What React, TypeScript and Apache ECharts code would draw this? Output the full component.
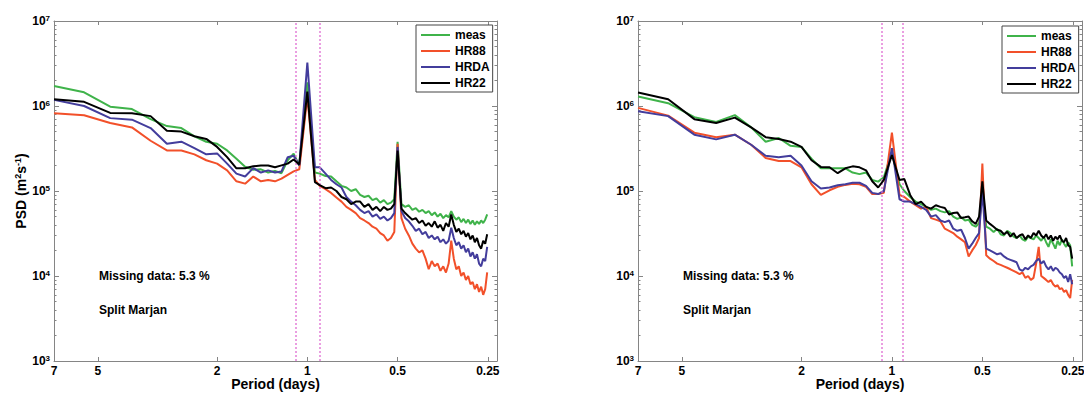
import React, { useEffect, useRef } from "react";
import * as echarts from "echarts";

// Frequency grid of the spectra (cycles per day); plotted as period = 1 / f
const FREQ_CPD = [
  0.1429, 0.18, 0.22, 0.26, 0.30, 0.34, 0.38, 0.42, 0.46, 0.50,
  0.54, 0.58, 0.62, 0.66, 0.70, 0.74, 0.78, 0.82, 0.86, 0.90,
  0.94, 1.00, 1.06, 1.10, 1.15, 1.20, 1.25, 1.30, 1.35, 1.40,
  1.45, 1.50, 1.55, 1.60, 1.65, 1.70, 1.75, 1.80, 1.85, 1.90,
  1.95, 2.00, 2.06, 2.12, 2.18, 2.24, 2.30, 2.36, 2.42, 2.48,
  2.54, 2.60, 2.66, 2.72, 2.78, 2.84, 2.90, 2.96, 3.02, 3.08,
  3.14, 3.20, 3.26, 3.32, 3.38, 3.44, 3.50, 3.56, 3.62, 3.68,
  3.74, 3.80, 3.86, 3.92, 3.98,
];

// Left panel PSD (m^2 s^-1)
const LEFT_MEAS = [
  1.72e6, 1.45e6, 9.8e5, 9.2e5, 7.0e5, 5.8e5, 5.5e5, 4.4e5, 3.8e5, 3.6e5,
  3.0e5, 2.4e5, 1.93e5, 1.78e5, 1.8e5, 1.65e5, 1.72e5, 1.62e5, 2.3e5, 2.75e5,
  2.0e5, 1.9e6, 1.65e5, 1.6e5, 1.5e5, 1.48e5, 1.3e5, 1.15e5, 1.1e5, 1.0e5,
  1.05e5, 9e4, 8.5e4, 8.8e4, 7.8e4, 8.2e4, 7.3e4, 7.8e4, 7e4, 7.3e4,
  8e4, 3.8e5, 7e4, 6.5e4, 6.8e4, 6e4, 6.3e4, 5.7e4, 6e4, 5.5e4,
  5.8e4, 5.2e4, 5.6e4, 5.0e4, 5.4e4, 4.8e4, 5.2e4, 4.9e4, 5.8e4, 5.0e4,
  4.6e4, 4.9e4, 4.3e4, 4.7e4, 4.2e4, 4.6e4, 4.1e4, 4.5e4, 4.0e4, 4.4e4,
  4.1e4, 4.5e4, 4.2e4, 4.6e4, 5.3e4,
];
const LEFT_HR88 = [
  8.2e5, 7.8e5, 6.3e5, 5.6e5, 3.9e5, 3.0e5, 3.0e5, 2.7e5, 2.3e5, 2.1e5,
  1.75e5, 1.3e5, 1.22e5, 1.48e5, 1.3e5, 1.35e5, 1.3e5, 1.4e5, 1.55e5, 1.7e5,
  1.8e5, 1.3e6, 1.35e5, 1.15e5, 1.05e5, 9.5e4, 8.4e4, 7.5e4, 6.5e4, 6e4,
  5.5e4, 4.8e4, 4.5e4, 4.2e4, 3.8e4, 3.6e4, 3.2e4, 3.0e4, 2.6e4, 2.8e4,
  3.3e4, 3.6e5, 4.8e4, 3.6e4, 3.0e4, 2.4e4, 2.1e4, 1.9e4, 2.0e4, 1.6e4,
  1.2e4, 1.5e4, 1.3e4, 1.4e4, 1.15e4, 1.3e4, 1.1e4, 1.4e4, 2.6e4, 1.6e4,
  1.2e4, 1.3e4, 1.0e4, 1.1e4, 9e3, 1.0e4, 8e3, 8.5e3, 7e3, 8e3,
  6.5e3, 7.5e3, 6e3, 7e3, 1.1e4,
];
const LEFT_HRDA = [
  1.18e6, 1.0e6, 7.2e5, 6.9e5, 5.5e5, 3.6e5, 3.8e5, 3.2e5, 2.7e5, 2.77e5,
  2.1e5, 1.6e5, 1.48e5, 1.86e5, 1.65e5, 1.75e5, 1.65e5, 1.7e5, 2.5e5, 2.6e5,
  2.0e5, 3.25e6, 1.9e5, 1.9e5, 1.6e5, 1.35e5, 1.2e5, 1.1e5, 8.5e4, 7.5e4,
  6.8e4, 6e4, 5.5e4, 5.8e4, 5e4, 5.3e4, 4.7e4, 5e4, 4.5e4, 4.8e4,
  5.5e4, 3.3e5, 5.8e4, 4.8e4, 4.4e4, 3.9e4, 3.4e4, 3.6e4, 3.1e4, 3.3e4,
  2.8e4, 3.0e4, 2.7e4, 2.9e4, 2.5e4, 2.7e4, 2.4e4, 2.6e4, 3.7e4, 2.8e4,
  2.3e4, 2.5e4, 2.1e4, 2.3e4, 1.9e4, 2.1e4, 1.7e4, 1.9e4, 1.6e4, 1.8e4,
  1.4e4, 1.3e4, 1.6e4, 1.5e4, 2.2e4,
];
const LEFT_HR22 = [
  1.2e6, 1.12e6, 8.3e5, 8.2e5, 7.6e5, 5.1e5, 5.0e5, 4.4e5, 4.1e5, 3.3e5,
  2.5e5, 1.85e5, 1.85e5, 1.95e5, 2.0e5, 2.0e5, 1.9e5, 2.0e5, 2.1e5, 2.35e5,
  2.05e5, 1.48e6, 1.27e5, 1.17e5, 1.08e5, 1.1e5, 1.0e5, 8.5e4, 8e4, 7e4,
  7.5e4, 7.5e4, 6.5e4, 7e4, 6e4, 6.5e4, 5.8e4, 6.5e4, 6e4, 6.2e4,
  7e4, 3.0e5, 6.2e4, 5.5e4, 5.0e4, 4.6e4, 4.8e4, 4.2e4, 4.5e4, 3.9e4,
  4.2e4, 3.8e4, 4.4e4, 3.7e4, 4.0e4, 3.4e4, 4.2e4, 3.8e4, 5.3e4, 4.0e4,
  3.3e4, 3.6e4, 3.1e4, 3.4e4, 2.9e4, 3.2e4, 2.7e4, 3.0e4, 2.5e4, 2.8e4,
  2.3e4, 2.1e4, 2.6e4, 2.4e4, 3.1e4,
];

// Right panel PSD (m^2 s^-1)
const RIGHT_MEAS = [
  1.29e6, 1.08e6, 7.4e5, 6.5e5, 7.8e5, 5.6e5, 3.8e5, 4.2e5, 3.4e5, 3.3e5,
  2.4e5, 1.85e5, 1.85e5, 1.85e5, 1.85e5, 1.65e5, 1.58e5, 1.65e5, 1.35e5, 1.29e5,
  1.45e5, 2.9e5, 1.2e5, 1.0e5, 8.5e4, 7.5e4, 7.0e4, 6.5e4, 6.0e4, 6.2e4,
  5.8e4, 5.6e4, 5.8e4, 5.0e4, 4.7e4, 4.9e4, 4.5e4, 4.6e4, 4.0e4, 3.8e4,
  4.2e4, 1.0e5, 3.8e4, 3.6e4, 3.3e4, 3.6e4, 3.1e4, 3.0e4, 3.4e4, 3.2e4,
  2.9e4, 2.8e4, 3.0e4, 2.7e4, 2.6e4, 2.9e4, 2.8e4, 2.7e4, 3.0e4, 2.8e4,
  2.6e4, 2.9e4, 2.5e4, 2.2e4, 2.7e4, 2.4e4, 2.1e4, 2.6e4, 2.3e4, 2.7e4,
  2.4e4, 2.2e4, 2.5e4, 2.3e4, 1.3e4,
];
const RIGHT_HR88 = [
  9.5e5, 7.7e5, 4.85e5, 4.3e5, 4.6e5, 3.5e5, 2.45e5, 2.25e5, 2.25e5, 1.9e5,
  1.2e5, 9.0e4, 1.02e5, 1.12e5, 1.18e5, 1.22e5, 1.2e5, 1.12e5, 9.2e4, 9.2e4,
  9.5e4, 4.85e5, 9.0e4, 8.5e4, 7.5e4, 6.8e4, 6.2e4, 6.5e4, 4.8e4, 4.6e4,
  4.4e4, 3.6e4, 3.4e4, 3.2e4, 2.9e4, 2.7e4, 2.5e4, 1.7e4, 2.0e4, 2.3e4,
  2.8e4, 2.1e5, 1.75e4, 1.6e4, 1.5e4, 1.4e4, 1.35e4, 1.3e4, 1.25e4, 1.2e4,
  1.15e4, 1.1e4, 1.05e4, 1.1e4, 9.5e3, 1.0e4, 9e3, 9.5e3, 1.4e4, 2.2e4,
  1.0e4, 9.5e3, 9e3, 8.5e3, 9e3, 8e3, 7.5e3, 7.8e3, 7e3, 7.2e3,
  6.5e3, 6.8e3, 6e3, 5.5e3, 9e3,
];
const RIGHT_HRDA = [
  8.7e5, 7.6e5, 4.6e5, 4.05e5, 4.6e5, 3.5e5, 2.6e5, 2.5e5, 2.6e5, 2.0e5,
  1.3e5, 1.07e5, 1.1e5, 1.17e5, 1.2e5, 1.25e5, 1.25e5, 1.15e5, 9.5e4, 9.2e4,
  1.0e5, 3.2e5, 8e4, 7.5e4, 7.5e4, 7.0e4, 6.5e4, 6.0e4, 5.0e4, 5.2e4,
  4.5e4, 4.3e4, 4.5e4, 3.6e4, 3.4e4, 3.5e4, 2.8e4, 2.1e4, 2.4e4, 2.8e4,
  3.2e4, 1.0e5, 2.1e4, 2.0e4, 1.9e4, 1.8e4, 1.85e4, 1.7e4, 1.6e4, 1.55e4,
  1.5e4, 1.45e4, 1.2e4, 1.15e4, 1.25e4, 1.2e4, 1.3e4, 1.35e4, 1.5e4, 1.6e4,
  1.4e4, 1.5e4, 1.3e4, 1.2e4, 1.3e4, 1.15e4, 1.25e4, 1.2e4, 1.1e4, 1.05e4,
  9.5e3, 1.0e4, 8.5e3, 1.05e4, 8e3,
];
const RIGHT_HR22 = [
  1.44e6, 1.2e6, 7.0e5, 6.3e5, 7.3e5, 5.6e5, 4.3e5, 4.1e5, 3.8e5, 3.3e5,
  2.3e5, 1.92e5, 1.9e5, 1.62e5, 1.85e5, 1.95e5, 1.9e5, 1.75e5, 1.3e5, 1.1e5,
  1.35e5, 2.65e5, 1.35e5, 1.38e5, 9e4, 7.0e4, 7.5e4, 6.5e4, 6.2e4, 6.8e4,
  6.5e4, 6.3e4, 5.3e4, 5.5e4, 5.6e4, 4.8e4, 4.9e4, 5.0e4, 4.4e4, 4.1e4,
  5.0e4, 1.3e5, 4.5e4, 4.1e4, 3.8e4, 3.5e4, 3.4e4, 3.1e4, 3.3e4, 2.9e4,
  3.2e4, 2.8e4, 3.0e4, 3.1e4, 2.7e4, 3.0e4, 2.8e4, 3.2e4, 3.0e4, 3.4e4,
  3.0e4, 2.8e4, 3.1e4, 2.7e4, 3.0e4, 2.6e4, 2.9e4, 2.7e4, 3.0e4, 2.6e4,
  2.5e4, 2.8e4, 2.3e4, 2.2e4, 1.6e4,
];

const SERIES_NAMES = ["meas", "HR88", "HRDA", "HR22"];
const SERIES_COLORS = ["#3fb34a", "#f2502a", "#433d9c", "#000000"];
const PERIOD_TICKS = [7, 5, 2, 1, 0.5, 0.25];
const PSD_DECADES = [1e3, 1e4, 1e5, 1e6, 1e7];
const PSD_MINOR = [
  2e3, 3e3, 4e3, 5e3, 6e3, 7e3, 8e3, 9e3,
  2e4, 3e4, 4e4, 5e4, 6e4, 7e4, 8e4, 9e4,
  2e5, 3e5, 4e5, 5e5, 6e5, 7e5, 8e5, 9e5,
  2e6, 3e6, 4e6, 5e6, 6e6, 7e6, 8e6, 9e6,
];
const LEFT_BAND = [1.09, 0.91];
const RIGHT_BAND = [1.08, 0.92];
const NOTE_MISSING = "Missing data: 5.3 %";
const NOTE_STATION = "Split Marjan";
const X_TITLE = "Period (days)";

const FONT = '"Liberation Sans", Arial, Helvetica, sans-serif';
const AXIS_GRAY = "#858585";

function buildOption() {
  const grids = [
    { left: 54, top: 21, width: 443, height: 340, outerBoundsMode: "none", containLabel: false },
    { left: 638, top: 21, width: 444, height: 340, outerBoundsMode: "none", containLabel: false },
  ];

  const xAxes: any[] = [];
  const yAxes: any[] = [];
  [0, 1].forEach((g) => {
    ["bottom", "top"].forEach((pos) => {
      xAxes.push({
        type: "log",
        logBase: 10,
        gridIndex: g,
        position: pos,
        inverse: true,
        min: 0.233,
        max: 7,
        axisLine: { show: true, onZero: false, lineStyle: { color: AXIS_GRAY, width: 1 } },
        axisTick: {
          show: true,
          inside: true,
          length: 4,
          customValues: PERIOD_TICKS,
          lineStyle: { color: AXIS_GRAY },
        },
        axisLabel:
          pos === "bottom"
            ? {
                show: true,
                customValues: PERIOD_TICKS,
                formatter: (v: number) => String(+Number(v).toPrecision(3)),
                margin: 3,
                color: "#000",
                fontSize: 12,
                fontWeight: "bold",
                fontFamily: FONT,
                lineHeight: 13,
                hideOverlap: false,
              }
            : { show: false },
        splitLine: { show: false },
        minorTick: { show: false },
        name: pos === "bottom" ? X_TITLE : "",
        nameLocation: "middle",
        nameGap: 16,
        nameMoveOverlap: false,
        nameTextStyle: { color: "#000", fontSize: 14, fontWeight: "bold", fontFamily: FONT, lineHeight: 14 },
      });
    });
    ["left", "right"].forEach((pos) => {
      // major decade ticks
      yAxes.push({
        type: "log",
        logBase: 10,
        gridIndex: g,
        position: pos,
        min: 1e3,
        max: 1e7,
        axisLine: { show: true, onZero: false, lineStyle: { color: AXIS_GRAY, width: 1 } },
        axisTick: {
          show: true,
          inside: true,
          length: 5,
          customValues: PSD_DECADES,
          lineStyle: { color: AXIS_GRAY },
        },
        axisLabel:
          pos === "left"
            ? {
                show: true,
                customValues: PSD_DECADES,
                margin: 4,
                formatter: (v: number) => `{b|10}{s|${Math.round(Math.log10(v))}}`,
                rich: {
                  b: { fontSize: 12, fontWeight: "bold", color: "#000", fontFamily: FONT, lineHeight: 14 },
                  s: {
                    fontSize: 8,
                    fontWeight: "bold",
                    color: "#000",
                    fontFamily: FONT,
                    verticalAlign: "top",
                    lineHeight: 8,
                  },
                },
              }
            : { show: false },
        splitLine: { show: false },
        minorTick: { show: false },
        name: pos === "left" && g === 0 ? "{t|PSD (m}{s|2}{t|s}{s|-1}{t|)}" : "",
        nameLocation: "middle",
        nameRotate: 90,
        nameGap: 25,
        nameMoveOverlap: false,
        nameTextStyle: {
          rich: {
            t: { fontSize: 14, fontWeight: "bold", color: "#000", fontFamily: FONT, lineHeight: 16 },
            s: {
              fontSize: 9,
              fontWeight: "bold",
              color: "#000",
              fontFamily: FONT,
              verticalAlign: "top",
              lineHeight: 9,
            },
          },
        },
      });
      // minor ticks
      yAxes.push({
        type: "log",
        logBase: 10,
        gridIndex: g,
        position: pos,
        min: 1e3,
        max: 1e7,
        axisLine: { show: false },
        axisTick: {
          show: true,
          inside: true,
          length: 2.5,
          customValues: PSD_MINOR,
          lineStyle: { color: AXIS_GRAY },
        },
        axisLabel: { show: false },
        splitLine: { show: false },
        minorTick: { show: false },
      });
    });
  });

  const panels = [
    { data: [LEFT_MEAS, LEFT_HR88, LEFT_HRDA, LEFT_HR22], band: LEFT_BAND, x: 0, y: 0 },
    { data: [RIGHT_MEAS, RIGHT_HR88, RIGHT_HRDA, RIGHT_HR22], band: RIGHT_BAND, x: 2, y: 4 },
  ];

  const series: any[] = [];
  panels.forEach((p) => {
    p.data.forEach((vals, k) => {
      const s: any = {
        name: SERIES_NAMES[k],
        type: "line",
        xAxisIndex: p.x,
        yAxisIndex: p.y,
        data: FREQ_CPD.map((f, i) => [1 / f, vals[i]]),
        showSymbol: false,
        symbol: "none",
        lineStyle: { color: SERIES_COLORS[k], width: 2 },
        itemStyle: { color: SERIES_COLORS[k] },
        emphasis: { disabled: true },
        z: 2 + k,
      };
      if (k === 0) {
        s.markLine = {
          silent: true,
          symbol: ["none", "none"],
          label: { show: false },
          lineStyle: { color: "#e070d4", type: [2, 2], width: 1.5, opacity: 0.9 },
          data: p.band.map((v) => ({ xAxis: v })),
        };
      }
      series.push(s);
    });
  });

  const legendBase = {
    data: SERIES_NAMES,
    orient: "vertical",
    icon: "rect",
    padding: [3, 3, 2, 5],
    itemWidth: 29,
    itemHeight: 2,
    itemGap: 2,
    borderColor: "#444",
    borderWidth: 1,
    backgroundColor: "#fff",
    selectedMode: false,
    textStyle: { fontSize: 12, fontWeight: "bold", color: "#000", fontFamily: FONT, lineHeight: 14 },
  };

  const noteStyle = (text: string) => ({
    text,
    fontSize: 12,
    fontWeight: "bold",
    fontFamily: FONT,
    fill: "#000",
    verticalAlign: "middle",
  });

  return {
    animation: false,
    backgroundColor: "#fff",
    grid: grids,
    xAxis: xAxes,
    yAxis: yAxes,
    legend: [
      { ...legendBase, left: 416, top: 25 },
      { ...legendBase, left: 1002, top: 26 },
    ],
    series,
    graphic: [
      { type: "text", x: 99, y: 276, style: noteStyle(NOTE_MISSING) },
      { type: "text", x: 99, y: 310, style: noteStyle(NOTE_STATION) },
      { type: "text", x: 683, y: 276, style: noteStyle(NOTE_MISSING) },
      { type: "text", x: 683, y: 310, style: noteStyle(NOTE_STATION) },
    ],
  };
}

export default function App() {
  const ref = useRef<HTMLDivElement>(null);
  useEffect(() => {
    if (!ref.current) return;
    const chart = echarts.init(ref.current, undefined, { renderer: "svg" });
    chart.setOption(buildOption() as any);
    return () => chart.dispose();
  }, []);
  return (
    <div
      ref={ref}
      style={{ position: "absolute", left: 0, top: 0, width: 1084, height: 393, background: "#fff" }}
    />
  );
}
